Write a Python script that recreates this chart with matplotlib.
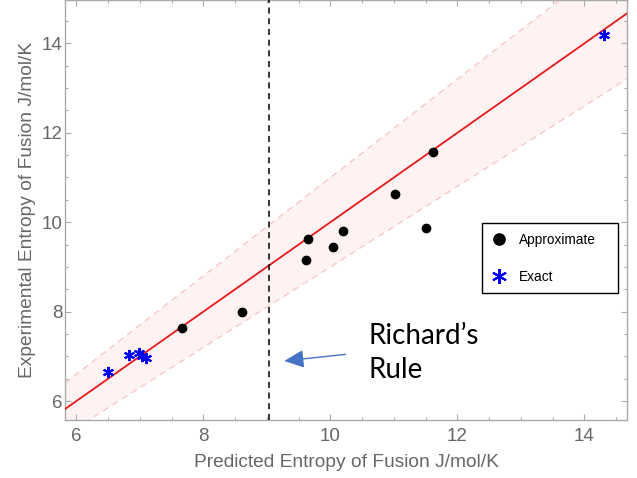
import numpy as np
import matplotlib
matplotlib.use("Agg")
import matplotlib.pyplot as plt
from matplotlib.ticker import MultipleLocator
from matplotlib.patches import Rectangle

# data
approx_x = [7.67, 8.61, 9.61, 9.65, 10.04, 10.19, 11.02, 11.51, 11.61]
approx_y = [7.64, 8.00, 9.16, 9.62, 9.45, 9.80, 10.62, 9.87, 11.58]
exact_x = [6.49, 6.83, 6.98, 7.03, 7.09, 14.31]
exact_y = [6.65, 7.04, 7.07, 7.01, 6.97, 14.19]
richards_rule_x = 9.03
band_frac = 0.10
x_range = (5.82, 14.67)
y_range = (5.575, 14.97)

GRAY = "#666666"
plt.rcParams['font.family'] = ['Liberation Sans', 'DejaVu Sans']

fig = plt.figure(figsize=(6.37, 4.78), dpi=100)
ax = fig.add_axes([65 / 637, 58 / 478, 562 / 637, 420 / 478])

xs = np.array(x_range)
ax.fill_between(xs, xs * (1 - band_frac), xs * (1 + band_frac),
                color="#fef2f2", lw=0, zorder=1)
ax.plot(xs, xs * (1 + band_frac), ls=(0, (5, 4)), color="#f8c4c4", lw=0.9, zorder=2)
ax.plot(xs, xs * (1 - band_frac), ls=(0, (5, 4)), color="#f8c4c4", lw=0.9, zorder=2)
ax.plot(xs, xs, color="#e8191b", lw=1.3, zorder=3)

ax.axvline(richards_rule_x, color="black", ls=(0, (4, 3)), lw=1.1, zorder=3)

ax.plot(approx_x, approx_y, 'o', color="black", ms=6, ls='none',
        label="Approximate", zorder=4)
ax.plot(exact_x, exact_y, marker=(6, 2, 0), color="#0000ff", ms=8, mew=1.5,
        ls='none', label="Exact", zorder=4)

ax.set_xlim(*x_range)
ax.set_ylim(*y_range)
ax.xaxis.set_major_locator(MultipleLocator(2))
ax.xaxis.set_minor_locator(MultipleLocator(0.5))
ax.yaxis.set_major_locator(MultipleLocator(2))
ax.yaxis.set_minor_locator(MultipleLocator(0.5))
ax.tick_params(which='both', direction='in', top=True, right=True,
               color="#aaaaaa", labelcolor=GRAY, labelsize=13.5, width=0.8)
ax.tick_params(which='major', length=4)
ax.tick_params(which='minor', length=2)
ax.tick_params(axis='x', which='major', pad=6)
ax.tick_params(axis='y', which='major', pad=2)
for sp in ax.spines.values():
    sp.set_color("#aaaaaa")
    sp.set_linewidth(1.0)

ax.set_xlabel("Predicted Entropy of Fusion J/mol/K", color=GRAY, fontsize=13.8, labelpad=6)
ax.set_ylabel("Experimental Entropy of Fusion J/mol/K", color=GRAY, fontsize=13.8, labelpad=4)

# legend, with its box drawn separately (wider padding on the right)
leg = ax.legend(loc='upper left', bbox_to_anchor=(0.757, 0.446), frameon=False,
                fontsize=9.8, labelspacing=1.7, borderpad=0, handletextpad=0.9,
                handlelength=1.2, borderaxespad=0, markerscale=1.35)
ax.add_patch(Rectangle((0.742, 0.302), 0.242, 0.167, transform=ax.transAxes,
                       facecolor="white", edgecolor="black", lw=1.0, zorder=6))
leg.set_zorder(7)

ax.annotate("", xy=(9.23, 6.89), xytext=(10.28, 7.05),
            arrowprops=dict(arrowstyle="-|>,head_length=1.2,head_width=0.55",
                            color="#4472c4", lw=1.0), zorder=5)
ax.text(10.60, 7.08, "Richard\u2019s\nRule", fontsize=20, family=['Lato', 'DejaVu Sans'],
        color="black", va='center', ha='left', linespacing=1.4)

fig.savefig("out.png", dpi=100)
